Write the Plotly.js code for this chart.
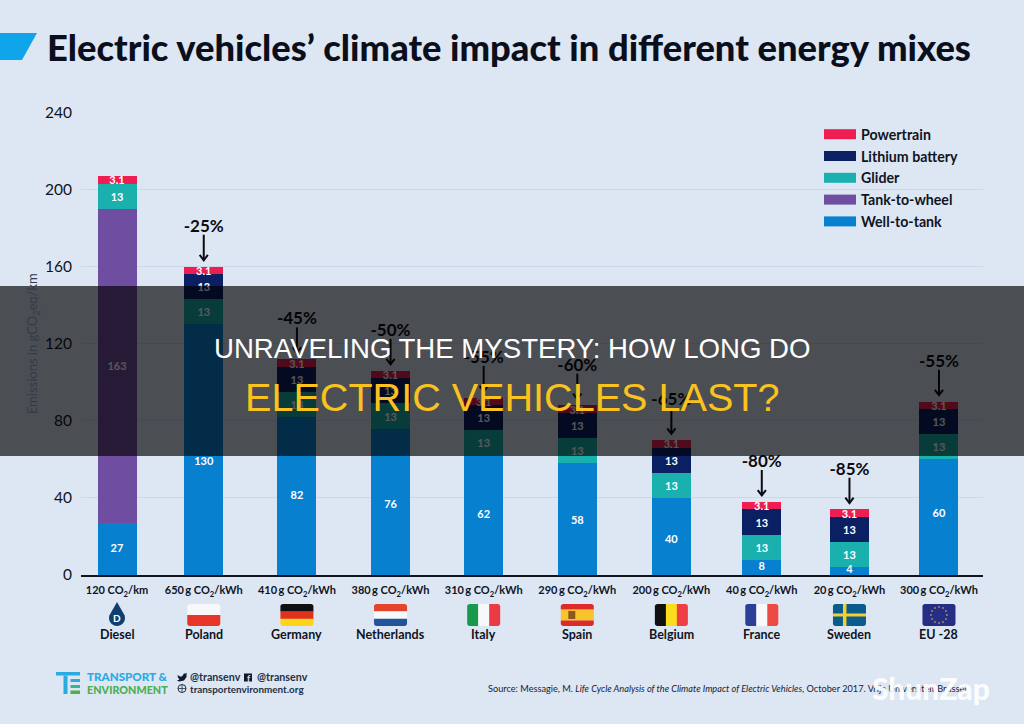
<!DOCTYPE html>
<html><head><meta charset="utf-8">
<script src="https://cdn.plot.ly/plotly-3.0.1.min.js"></script>
<style>html,body{margin:0;padding:0;background:#dde6f3}#c{width:1024px;height:724px}</style>
</head><body><div id="c"></div>
<script>
// ---- data ----
const countries = ['Diesel','Poland','Germany','Netherlands','Italy','Spain','Belgium','France','Sweden','EU -28'];
const intensity = ['120 CO<sub>2</sub>/km','650\u2009g CO<sub>2</sub>/kWh','410\u2009g CO<sub>2</sub>/kWh','380\u2009g CO<sub>2</sub>/kWh','310\u2009g CO<sub>2</sub>/kWh','290\u2009g CO<sub>2</sub>/kWh','200\u2009g CO<sub>2</sub>/kWh','40\u2009g CO<sub>2</sub>/kWh','20\u2009g CO<sub>2</sub>/kWh','300\u2009g CO<sub>2</sub>/kWh'];
const wellToTank = [27,130,82,76,62,58,40,8,4,60];
const wellLabelHeights = [13.5,58.3,41,36.3,31,27.8,18,3.8,2.6,31.6];
const tankToWheel = [163,0,0,0,0,0,0,0,0,0];
const glider = [13,13,13,13,13,13,13,13,13,13];
const battery = [0,13,13,13,13,13,13,13,13,13];
const powertrainDrawn = [4,4,4,4,4,4,4,4,4,4];
const powertrainLabels = ['3.1','3.1','3.1','3.1','3.1','3.1','3.1','3.1','3.1','3.1'];
const reductions = ['','-25%','-45%','-50%','-55%','-60%','-65%','-80%','-85%','-55%'];
const slots = [0,0.95,1.97,2.995,4.015,5.04,6.07,7.06,8.02,9];
const seriesNames = ['Powertrain','Lithium battery','Glider','Tank-to-wheel','Well-to-tank'];
const seriesColors = ['#ee1d52','#0b1f63','#19b0ae','#6f4da0','#0680cf'];
// ------------------------------------
const W=1024,H=724,X0=81,X1=983,Y0=575,YT=112.5;
const SLOT=91.33, XMIN=-(117-X0)/SLOT, XMAX=(X1-117)/SLOT;
const cxOf=s=>117+s*SLOT;
const fx=x=>x/W, fy=y=>1-y/H;
const P=(x,y)=>fx(x).toFixed(5)+','+fy(y).toFixed(5);
const font='Lato, sans-serif';
const ink='#10141f';
const shapes=[],ann=[];
function poly(pts,fill){shapes.push({type:'path',xref:'paper',yref:'paper',path:'M'+pts.map(p=>P(p[0],p[1])).join('L')+'Z',fillcolor:fill,line:{width:0}});}
function rect(x0,y0,x1,y1,fill){shapes.push({type:'rect',xref:'paper',yref:'paper',x0:fx(x0),x1:fx(x1),y0:fy(y1),y1:fy(y0),fillcolor:fill,line:{width:0}});}
function circ(cx,cy,r,fill,lc,lw){shapes.push({type:'circle',xref:'paper',yref:'paper',x0:fx(cx-r),x1:fx(cx+r),y0:fy(cy+r),y1:fy(cy-r),fillcolor:fill,line:lc?{color:lc,width:lw}:{width:0}});}
function rr(x0,y0,x1,y1,c,fill){
  const r=2.5,pts=[];
  const arc=(cx,cy,a0)=>{for(let i=0;i<=4;i++){const a=a0+i*Math.PI/8;pts.push([cx+r*Math.cos(a),cy+r*Math.sin(a)]);}};
  if(c[0])arc(x0+r,y0+r,Math.PI);else pts.push([x0,y0]);
  if(c[1])arc(x1-r,y0+r,1.5*Math.PI);else pts.push([x1,y0]);
  if(c[2])arc(x1-r,y1-r,0);else pts.push([x1,y1]);
  if(c[3])arc(x0+r,y1-r,.5*Math.PI);else pts.push([x0,y1]);
  poly(pts,fill);
}
const FT=604,FB=626,FW=16.5;
function hFlag(cx,cols){const h=(FB-FT)/cols.length;cols.forEach((c,i)=>rr(cx-FW,FT+i*h,cx+FW,FT+(i+1)*h+(i<cols.length-1?.3:0),[i==0,i==0,i==cols.length-1,i==cols.length-1],c));}
function vFlag(cx,cols){const w=2*FW/cols.length;cols.forEach((c,i)=>rr(cx-FW+i*w,FT,cx-FW+(i+1)*w+(i<cols.length-1?.3:0),FB,[i==0,i==cols.length-1,i==cols.length-1,i==0],c));}
function txt(x,y,t,size,color,anchor,weight,extra){ann.push(Object.assign({xref:'paper',yref:'paper',x:fx(x),y:fy(y),text:t,showarrow:false,xanchor:anchor||'center',yanchor:'middle',borderpad:0,font:{family:font,size:size,color:color||ink,weight:weight||400}},extra||{}));}

poly([[0,33],[37,33],[22,60],[0,60]],'#0ea5ea');

countries.forEach((c,i)=>txt(cxOf(slots[i]),634,c,12.5,ink,'center',700));
(function(){const cx=cxOf(slots[0]),pts=[[cx,602]];
 for(let i=0;i<=16;i++){const a=-0.35+i*(Math.PI+0.7)/16;pts.push([cx+8*Math.cos(a),618+8*Math.sin(a)]);}
 poly(pts,'#0f3f6f');txt(cx,618,'D',10,'#ffffff','center',700);})();
hFlag(cxOf(slots[1]),['#f7f8fa','#e8352a']);
hFlag(cxOf(slots[2]),['#111111','#e0301e','#fdd31c']);
hFlag(cxOf(slots[3]),['#e5432c','#f7f8fa','#23539c']);
vFlag(cxOf(slots[4]),['#189a4c','#f7f8fa','#ea3b45']);
hFlag(cxOf(slots[5]),['#df2a2c','#f8c42b','#f8c42b','#df2a2c']);
rect(cxOf(slots[5])-9,611,cxOf(slots[5])-2,619,'#8a5a1c');
vFlag(cxOf(slots[6]),['#111111','#fbdc1f','#ee3f45']);
vFlag(cxOf(slots[7]),['#2a3f95','#f7f8fa','#ee4a45']);
hFlag(cxOf(slots[8]),['#0b5c8e']);
(function(){const cx=cxOf(slots[8]);rect(cx-FW,613.5,cx+FW,616.5,'#f5cf2a');rect(cx-6.5,FT,cx-3,FB,'#f5cf2a');})();
hFlag(cxOf(slots[9]),['#262d85']);
(function(){const cx=cxOf(slots[9]);for(let i=0;i<12;i++){const a=i*Math.PI/6;circ(cx+8*Math.cos(a),615+8*Math.sin(a),.8,'#f2d64b');}})();

seriesNames.forEach((n,i)=>{const y=134.2+i*21.8;rect(824,y-5,856,y+5,seriesColors[i]);txt(859.5,y,n,14.2,ink,'left',700);});

rect(56,672,80,675.5,'#29abe2');rect(63.5,675.5,67.5,694,'#29abe2');
rect(70.5,679,80,682,'#29abe2');rect(70.5,685,80,688,'#3fae9a');rect(70.5,690.5,80,694,'#4caf50');
txt(86,676,'TRANSPORT &amp;',11.6,'#29abe2','left',900);
txt(86,689,'ENVIRONMENT',10.8,'#4caf50','left',900);
poly([[177.5,675],[180,676.5],[182,676.5],[184,673.5],[186,673.5],[187,672.8],[186.5,674.5],[186.5,677],[184,680.5],[179,681.5],[177,680.5],[179.5,679.5],[178,677.5]],'#101a2c');
txt(189,676.5,'@transenv',10.7,'#243044','left',700);
rect(244,673.5,252,681.5,'#101a2c');txt(249,678,'f',9,'#dde6f3','center',700);
txt(256,676.5,'@transenv',10.7,'#243044','left',700);
circ(182,688.5,4,'rgba(0,0,0,0)','#243044',1);
shapes.push({type:'line',xref:'paper',yref:'paper',x0:fx(178),x1:fx(186),y0:fy(688.5),y1:fy(688.5),line:{color:'#243044',width:.8}});
shapes.push({type:'line',xref:'paper',yref:'paper',x0:fx(182),x1:fx(182),y0:fy(684.5),y1:fy(692.5),line:{color:'#243044',width:.8}});
txt(189,688.5,'transportenvironment.org',9.9,'#243044','left',700);
txt(487,688.5,'Source: Messagie, M. <i>Life Cycle Analysis of the Climate Impact of Electric Vehicles</i>, October 2017. Vrije Universiteit Brussel.',9.2,'#1a2230','left',400);

rect(0,286,W,456,'rgba(0,0,0,0.66)');

ann.push({xref:'paper',yref:'paper',x:fx(511.5),y:fy(348),text:'UNRAVELING THE MYSTERY: HOW LONG DO',showarrow:false,xanchor:'center',yanchor:'middle',font:{family:'"Liberation Sans",Arial,sans-serif',size:27.6,color:'#ffffff'}});
ann.push({xref:'paper',yref:'paper',x:fx(511.5),y:fy(397),text:'ELECTRIC VEHICLES LAST?',showarrow:false,xanchor:'center',yanchor:'middle',font:{family:'"Liberation Sans",Arial,sans-serif',size:39.6,color:'#f9c21f'}});
txt(931,688,'ShunZap',30,'rgba(255,255,255,0.92)','center',900);

const totals=wellToTank.map((v,i)=>v+tankToWheel[i]+glider[i]+battery[i]+powertrainDrawn[i]);
function bar(name,ys,color,text){
  const keep=ys.map((v,i)=>i).filter(i=>ys[i]>0);
  return {type:'bar',name,x:keep.map(i=>slots[i]),y:keep.map(i=>ys[i]),width:.427,marker:{color,line:{width:0}},
    text:text?keep.map(i=>text[i]):undefined,textposition:text?'inside':'none',insidetextanchor:'middle',constraintext:'none',textangle:0,cliponaxis:false,
    insidetextfont:{family:font,size:11,color:'#ffffff',weight:700},hoverinfo:'name+y',showlegend:false};
}
const traces=[
 bar(seriesNames[4],wellToTank,seriesColors[4],null),
 bar(seriesNames[3],tankToWheel,seriesColors[3],tankToWheel.map(String)),
 bar(seriesNames[2],glider,seriesColors[2],glider.map(String)),
 bar(seriesNames[1],battery,seriesColors[1],battery.map(String)),
 bar(seriesNames[0],powertrainDrawn,seriesColors[0],powertrainLabels)
];
traces.push({type:'scatter',mode:'text',x:slots,y:wellLabelHeights,text:wellToTank.map(String),textposition:'middle center',textfont:{family:font,size:11,color:'#ffffff',weight:700},hoverinfo:'skip',showlegend:false,cliponaxis:false});
const ax=[],ay=[],tx=[],ty=[],tt=[];
slots.forEach((s,i)=>{ if(!reductions[i])return;
  const tip=totals[i]+3.3,tail=totals[i]+16.5;
  ax.push(s,s,null,s-.045,s,s+.045,null);ay.push(tail,tip,null,tip+2.8,tip,tip+2.8,null);
  tx.push(s);ty.push(totals[i]+20.2);tt.push(reductions[i]);
});
traces.push({type:'scatter',mode:'lines',x:ax,y:ay,line:{color:'#0a0c12',width:2},hoverinfo:'skip',showlegend:false,cliponaxis:false});
traces.push({type:'scatter',mode:'text',x:tx,y:ty,text:tt,textposition:'middle center',textfont:{family:font,size:17,color:'#0a0c12',weight:700},hoverinfo:'skip',showlegend:false,cliponaxis:false});

const layout={
 width:W,height:H,margin:{l:0,r:0,t:0,b:0},paper_bgcolor:'#dde6f3',plot_bgcolor:'rgba(0,0,0,0)',
 showlegend:false,barmode:'stack',
 title:{text:"Electric vehicles’ climate impact in different energy mixes",x:47/W,xanchor:'left',xref:'paper',y:fy(48),yanchor:'middle',yref:'paper',font:{family:'Lato, sans-serif',size:36.3,color:'#0b0f1c',weight:900}},
 xaxis:{domain:[fx(X0),fx(X1)],range:[XMIN,XMAX],type:'linear',tickmode:'array',tickvals:slots,ticktext:intensity,tickfont:{family:font,size:11,color:ink,weight:700},showgrid:false,zeroline:false,showline:true,linecolor:'#10141f',linewidth:2,ticks:'',ticklabelstandoff:4,fixedrange:true},
 yaxis:{domain:[fy(Y0),fy(YT)],range:[0,240],tickmode:'array',tickvals:[0,40,80,120,160,200,240],tickfont:{family:font,size:15.5,color:ink},gridcolor:'#cdd7e6',gridwidth:1,zeroline:false,showline:false,ticks:'',ticklabelstandoff:8,fixedrange:true,
   title:{text:'Emissions in gCO<sub>2</sub>eq/km',font:{family:font,size:13,color:'#333a48'},standoff:4}},
 shapes,annotations:ann
};
Plotly.newPlot('c',traces,layout,{displayModeBar:false,staticPlot:true});
</script></body></html>
